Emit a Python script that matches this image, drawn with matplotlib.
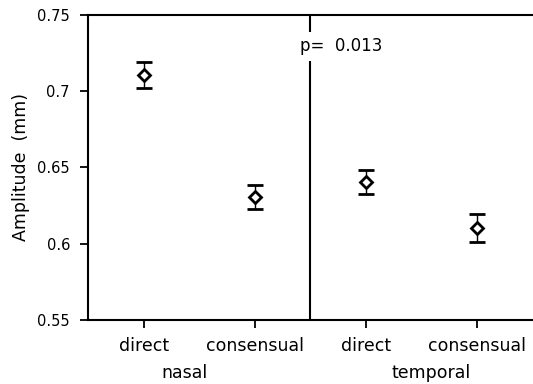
import matplotlib.pyplot as plt
import numpy as np

plt.rcParams['font.family'] = ['DejaVu Sans']

categories = ['direct', 'consensual', 'direct', 'consensual']
groups = ['nasal', 'temporal']
amplitude = [0.7105, 0.6305, 0.6405, 0.6100]
err_low = [0.0085, 0.0080, 0.0080, 0.0090]
err_high = [0.0085, 0.0080, 0.0080, 0.0095]
y_ticks = [0.55, 0.6, 0.65, 0.7, 0.75]
y_tick_labels = ['0.55', '0.6', '0.65', '0.7', '0.75']
p_text = 'p=  0.013'

fig = plt.figure(figsize=(5.33, 3.84), dpi=100)
ax = fig.add_axes([0.165, 0.1667, 0.835, 0.7943])

x = np.arange(1, len(categories) + 1)
ax.errorbar(x, amplitude, yerr=[err_low, err_high], fmt='D', ms=6.5,
            mfc='white', mec='black', mew=2, ecolor='black', elinewidth=1,
            capsize=5.5, capthick=1.5, zorder=3)

ax.set_xlim(0.5, 4.5)
ax.set_ylim(0.55, 0.75)
ax.set_xticks(x)
ax.set_xticklabels(categories, fontsize=12.5)
ax.set_yticks(y_ticks)
ax.set_yticklabels(y_tick_labels, fontsize=10.5)
ax.set_ylabel('Amplitude  (mm)', fontsize=12.5, labelpad=5)

ax.tick_params(axis='y', direction='out', length=6, width=1.3, pad=7)
ax.tick_params(axis='x', direction='out', length=6, width=1.3, pad=6)
for side in ['left', 'bottom', 'top']:
    ax.spines[side].set_linewidth(1.5)
ax.spines['right'].set_visible(False)

# divider between groups, broken by the p-value text
ax.axvline(2.5, color='black', lw=1.5, zorder=1)
ax.text(2.41, 0.7295, p_text, fontsize=12, ha='left', va='center',
        bbox=dict(facecolor='white', edgecolor='none', pad=4), zorder=2)

for gx, g in zip([1.37, 3.58], groups):
    ax.text(gx, -0.175, g, transform=ax.get_xaxis_transform(),
            ha='center', va='center', fontsize=12.5)

fig.savefig('out.png', dpi=100)
